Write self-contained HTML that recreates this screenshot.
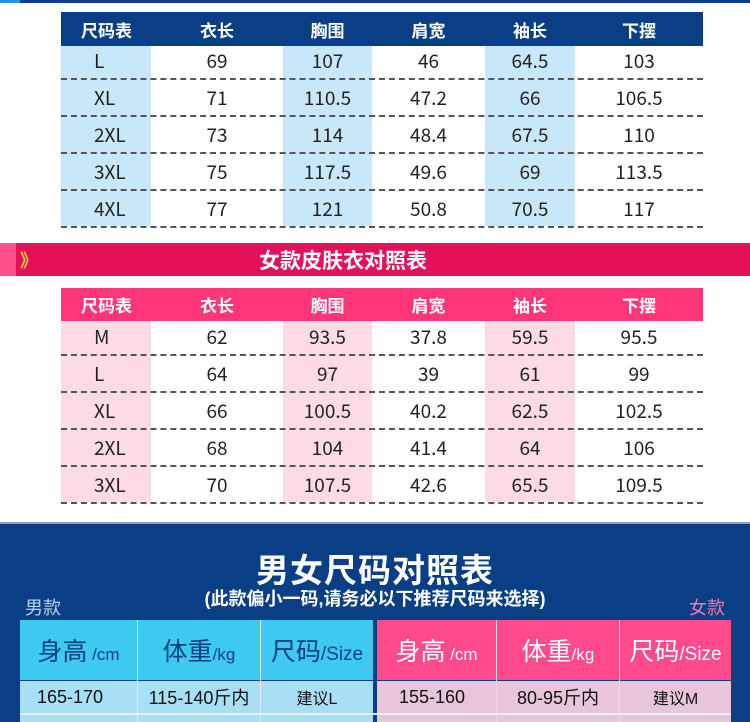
<!DOCTYPE html>
<html><head><meta charset="utf-8"><style>
*{margin:0;padding:0;box-sizing:border-box}
body{width:750px;height:722px;overflow:hidden;background:#fff;position:relative;font-family:"Liberation Sans","Noto Sans CJK SC",sans-serif}
.a{position:absolute}
.c{position:absolute;display:flex;align-items:center;justify-content:center}
.hd{color:#fff;font-size:17px;font-weight:bold}
.num{color:#222;font-size:19px;font-family:"Noto Sans CJK SC","Liberation Sans",sans-serif}
.dash{position:absolute;left:61px;width:642px;height:0;border-top:2px dashed #555}
.bh{line-height:60px;text-align:center;white-space:nowrap}
</style></head><body>
<div class="a" style="left:0;top:0;width:750px;height:3px;background:#0a3f85"></div>
<div class="a" style="left:0;top:0;width:20px;height:3px;background:#2a8ee0"></div>

<div class="a" style="left:61px;top:12px;width:642px;height:34px;background:#0a3f85"></div>
<div class="a" style="left:61px;top:46px;width:90px;height:180px;background:#c8e8fa"></div>
<div class="a" style="left:283px;top:46px;width:89px;height:180px;background:#c8e8fa"></div>
<div class="a" style="left:485px;top:46px;width:90px;height:180px;background:#c8e8fa"></div>
<div id="t1"></div>

<div class="a" style="left:0;top:243px;width:750px;height:33px;background:#e5105a"></div>
<div class="a" style="left:0;top:243px;width:16px;height:33px;background:#ff4f8a"></div>
<div class="a" style="left:20px;top:247px;color:#ffd23c;font-size:18px;font-weight:bold">》</div>
<div class="c" style="left:0;top:243px;width:686px;height:33px;color:#fff;font-size:21px;font-weight:bold">女款皮肤衣对照表</div>

<div class="a" style="left:61px;top:288px;width:642px;height:33px;background:#ff3579"></div>
<div class="a" style="left:61px;top:321px;width:90px;height:181px;background:#fddbe5"></div>
<div class="a" style="left:283px;top:321px;width:89px;height:181px;background:#fddbe5"></div>
<div class="a" style="left:485px;top:321px;width:90px;height:181px;background:#fddbe5"></div>
<div id="t2"></div>

<div class="a" style="left:0;top:522px;width:750px;height:200px;background:#0a3f85"></div>
<div class="a" style="left:0;top:522px;width:750px;height:2px;background:#8fa0c0"></div>
<div class="c" style="left:0;top:546px;width:750px;height:44px;color:#fff;font-size:33px;font-weight:bold;letter-spacing:1px">男女尺码对照表</div>
<div class="c" style="left:0;top:586px;width:750px;height:24px;color:#fff;font-size:18px;font-weight:bold">(此款偏小一码,请务必以下推荐尺码来选择)</div>
<div class="a" style="left:25px;top:594px;color:#b8d6f2;font-size:18px">男款</div>
<div class="a" style="left:689px;top:594px;color:#f07ab8;font-size:18px">女款</div>

<div class="a" style="left:20px;top:620px;width:353px;height:60px;background:#3ec9ef"></div>
<div class="a" style="left:377px;top:620px;width:354px;height:60px;background:#ff4b8e"></div>
<div class="a" style="left:20px;top:681px;width:353px;height:41px;background:#a9dff5"></div>
<div class="a" style="left:377px;top:681px;width:354px;height:41px;background:#e8c6da"></div>
<div class="a" style="left:137px;top:620px;width:1px;height:102px;background:#d8eef8"></div>
<div class="a" style="left:260px;top:620px;width:1px;height:102px;background:#d8eef8"></div>
<div class="a" style="left:496px;top:620px;width:1px;height:102px;background:#f5d8e6"></div>
<div class="a" style="left:619px;top:620px;width:1px;height:102px;background:#f5d8e6"></div>
<div class="a" style="left:20px;top:713px;width:711px;height:2px;background:#eef2f8"></div>

<div class="a bh" style="left:20px;top:622px;width:117px;color:#0a3f85;font-size:25px">身高<span style="font-size:17px">&nbsp;/cm</span></div>
<div class="a bh" style="left:138px;top:622px;width:122px;color:#0a3f85;font-size:25px">体重<span style="font-size:17px">/kg</span></div>
<div class="a bh" style="left:261px;top:622px;width:112px;color:#0a3f85;font-size:25px">尺码<span style="font-size:19px">/Size</span></div>
<div class="a bh" style="left:377px;top:622px;width:119px;color:#fff;font-size:25px">身高<span style="font-size:17px">&nbsp;/cm</span></div>
<div class="a bh" style="left:497px;top:622px;width:122px;color:#fff;font-size:25px">体重<span style="font-size:17px">/kg</span></div>
<div class="a bh" style="left:620px;top:622px;width:111px;color:#fff;font-size:25px">尺码<span style="font-size:19px">/Size</span></div>

<div class="c" style="left:20px;top:681px;width:100px;height:32px;color:#111;font-size:18px">165-170</div>
<div class="c" style="left:138px;top:681px;width:122px;height:32px;color:#111;font-size:18px">115-140斤内</div>
<div class="c" style="left:261px;top:681px;width:112px;height:32px;color:#111;font-size:16px">建议L</div>
<div class="c" style="left:377px;top:681px;width:110px;height:32px;color:#111;font-size:18px">155-160</div>
<div class="c" style="left:497px;top:681px;width:122px;height:32px;color:#111;font-size:18px">80-95斤内</div>
<div class="c" style="left:620px;top:681px;width:111px;height:32px;color:#111;font-size:16px">建议M</div>

<script>
var cols=[61,151,283,372,485,575,703];
var hd=["尺码表","衣长","胸围","肩宽","袖长","下摆"];
function build(top,hh,rows,pitch,firstRowTop){
  var h='';
  for(var i=0;i<6;i++){
    var l=cols[i],w=cols[i+1]-cols[i];
    var x=i==0?'justify-content:flex-start;padding-left:20px;':'';
    h+='<div class="c hd" style="'+x+'left:'+l+'px;top:'+top+'px;width:'+w+'px;height:'+hh+'px">'+hd[i]+'</div>';
  }
  for(var r=0;r<rows.length;r++){
    var t=firstRowTop+r*pitch;
    for(var i=0;i<6;i++){
      var l=cols[i],w=cols[i+1]-cols[i];
      var x=i==0?'justify-content:flex-start;padding-left:33px;':'';
      h+='<div class="c num" style="'+x+'left:'+l+'px;top:'+t+'px;width:'+w+'px;height:'+pitch+'px">'+rows[r][i]+'</div>';
    }
    h+='<div class="dash" style="top:'+(t+pitch-1)+'px"></div>';
  }
  return h;
}
document.getElementById('t1').innerHTML=build(12,34,[
["L","69","107","46","64.5","103"],["XL","71","110.5","47.2","66","106.5"],["2XL","73","114","48.4","67.5","110"],["3XL","75","117.5","49.6","69","113.5"],["4XL","77","121","50.8","70.5","117"]],37,42);
document.getElementById('t2').innerHTML=build(288,33,[
["M","62","93.5","37.8","59.5","95.5"],["L","64","97","39","61","99"],["XL","66","100.5","40.2","62.5","102.5"],["2XL","68","104","41.4","64","106"],["3XL","70","107.5","42.6","65.5","109.5"]],37,318);
</script>
</body></html>
